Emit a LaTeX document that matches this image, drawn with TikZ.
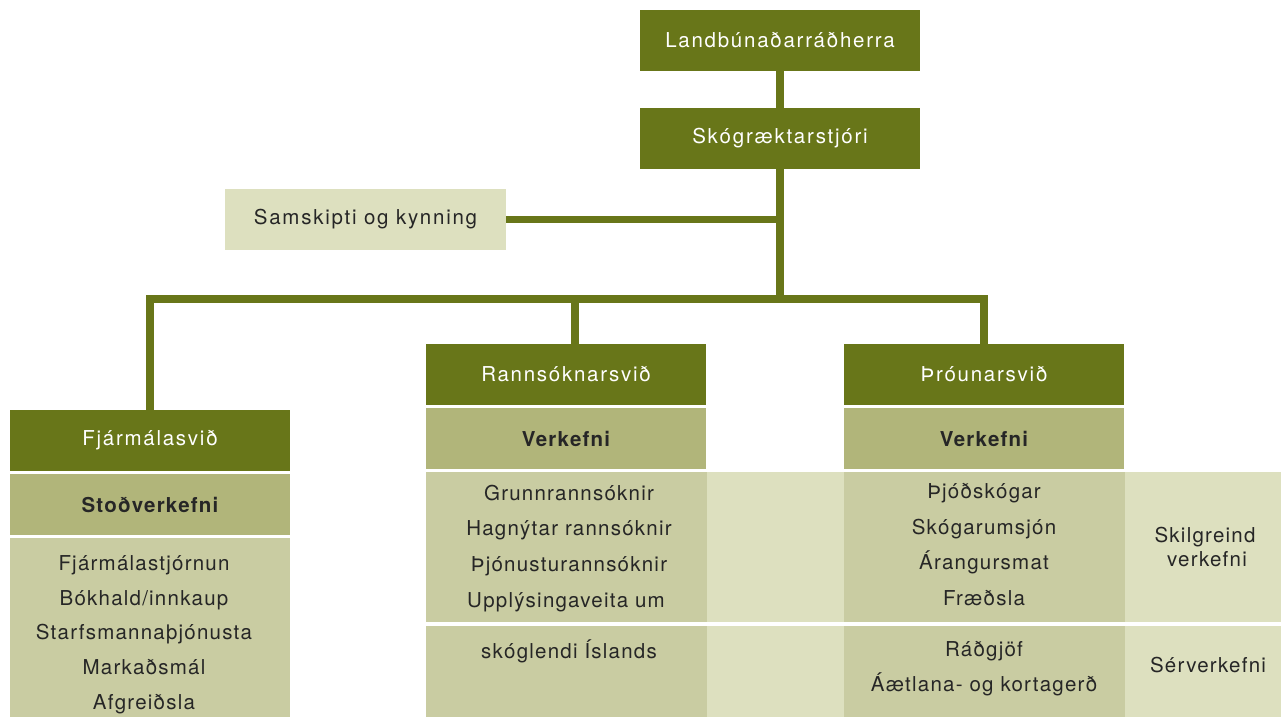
\documentclass[tikz,border=0pt]{standalone}
\usepackage{fontspec}
\setmainfont{TeX Gyre Heros}[LetterSpace=6]
\definecolor{sgdark}{HTML}{687619}
\definecolor{sghead}{HTML}{B1B57A}
\definecolor{sgcell}{HTML}{C9CCA2}
\definecolor{sgpale}{HTML}{DDE0BF}
\definecolor{sgink}{HTML}{262626}
\newcommand\sgfont{\fontsize{20.5}{25}\selectfont}
\newcommand\sgwide{\sgfont\addfontfeature{LetterSpace=8.5}}
\tikzset{
  link/.style={draw=sgdark,line width=7.5pt},
  unit/.style={fill=sgdark,text=white,font=\sgwide,minimum width=280,minimum height=61,inner sep=0pt},
  taskhead/.style={fill=sghead,text=sgink,font=\sgfont\bfseries,minimum width=280,minimum height=61,inner sep=0pt},
  cell/.style={fill=sgcell,inner sep=0pt},
  side/.style={fill=sgpale,inner sep=0pt},
  entry/.style={text=sgink,anchor=base,inner sep=0pt}
}
\begin{document}
\begin{tikzpicture}[x=1pt,y=-1pt,font=\sgfont,line join=miter]
\useasboundingbox (0,0) rectangle (1281,717);
% top of the chart
\node[unit] (land) at (780,40.5) {Landbúnaðarráðherra};
\node[unit] (chief) at (780,138.5) {Skógræktarstjóri};
\node[side,text=sgink,font=\sgwide,minimum width=281,minimum height=61] (comm) at (365.5,219.5) {Samskipti og kynning};
\coordinate (junction) at (780,299);
\coordinate (resdrop) at (575,299);

% Fjármálasvið
\node[unit] (fin) at (150,440.5) {Fjármálasvið};
\node[taskhead] (finhead) at (150,504.5) {Stoðverkefni};
\node[cell,minimum width=280,minimum height=179] (fincell) at (150,627.5) {};

% Rannsóknarsvið
\node[unit] (res) at (566,374.5) {Rannsóknarsvið};
\node[taskhead] (reshead) at (566,438.5) {Verkefni};
\node[cell,minimum width=281,minimum height=150] (rescell1) at (566.5,547) {};
\node[cell,minimum width=281,minimum height=91] (rescell2) at (566.5,671.5) {};
\node[side,minimum width=137,minimum height=150] (resside1) at (775.5,547) {};
\node[side,minimum width=137,minimum height=91] (resside2) at (775.5,671.5) {};

% Þróunarsvið
\node[unit] (dev) at (984,374.5) {Þróunarsvið};
\node[taskhead] (devhead) at (984,438.5) {Verkefni};
\node[cell,minimum width=281,minimum height=150] (devcell1) at (984.5,547) {};
\node[cell,minimum width=281,minimum height=91] (devcell2) at (984.5,671.5) {};
\node[side,minimum width=156,minimum height=150] (devside1) at (1203,547) {};
\node[side,minimum width=156,minimum height=91] (devside2) at (1203,671.5) {};

% connectors
\draw[link] (land.south)--(chief.north);
\draw[link] (chief.south)--(junction);
\draw[link] (comm.east)--(comm.east -| chief.south);
\draw[link] (fin.north) |- (dev.north |- junction)--(dev.north);
\draw[link] (resdrop)--(resdrop |- res.north);

% entries
\node[entry] (fin1) at (144,570.7) {Fjármálastjórnun};
\node[entry] (fin2) at (144,605) {Bókhald/innkaup};
\node[entry] (fin3) at (144,639.5) {Starfsmannaþjónusta};
\node[entry] (fin4) at (144,674) {Markaðsmál};
\node[entry] (fin5) at (144,709.3) {Afgreiðsla};

\node[entry] (res1) at (569,500) {Grunnrannsóknir};
\node[entry] (res2) at (569,535.7) {Hagnýtar rannsóknir};
\node[entry] (res3) at (569,571.3) {Þjónusturannsóknir};
\node[entry] (res4) at (566,607) {Upplýsingaveita um};
\node[entry] (res5) at (569,658.3) {skóglendi Íslands};

\node[entry] (dev1) at (984,498.5) {Þjóðskógar};
\node[entry] (dev2) at (984,534) {Skógarumsjón};
\node[entry] (dev3) at (984,569.5) {Árangursmat};
\node[entry] (dev4) at (984,605) {Fræðsla};
\node[entry] (dev5) at (984,656) {Ráðgjöf};
\node[entry] (dev6) at (984,691.7) {Áætlana- og kortagerð};

\node[entry] (side1) at (1205,542.3) {Skilgreind};
\node[entry] (side2) at (1207,566.7) {verkefni};
\node[entry] (side3) at (1208,672.7) {Sérverkefni};
\end{tikzpicture}
\end{document}
